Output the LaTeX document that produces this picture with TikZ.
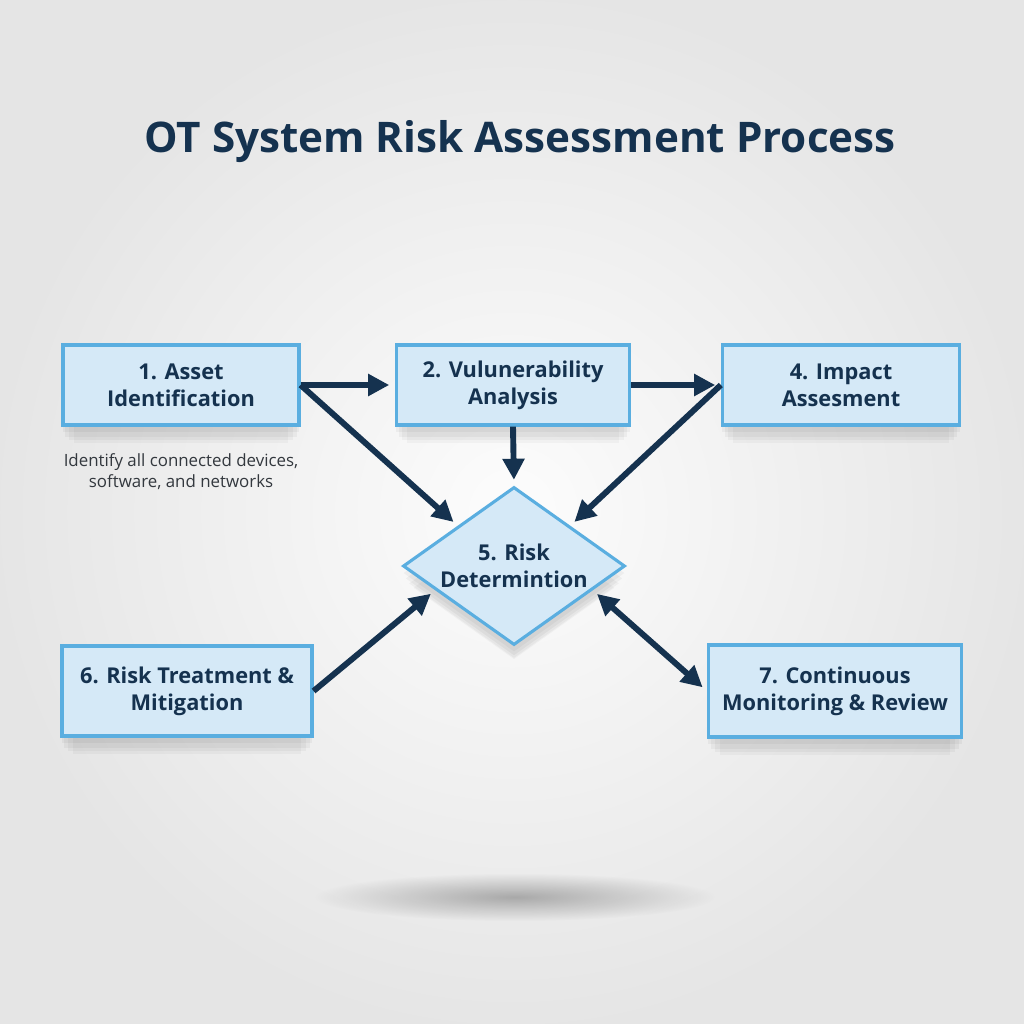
\documentclass[tikz,border=0pt]{standalone}
\usepackage{fontspec}
\setmainfont{Open Sans}
\setsansfont{Open Sans}
\usepackage{tikz}
\usetikzlibrary{arrows.meta, positioning, shapes.geometric, shadows, fadings, calc}
\definecolor{navy}{HTML}{15324F}
\definecolor{boxfill}{HTML}{D5E9F7}
\definecolor{boxline}{HTML}{5AAEE0}
\definecolor{notegray}{HTML}{33383E}
\tikzfading[name=softspot, inner color=transparent!45, outer color=transparent!100]

\tikzset{
  softshadow/.style={
    drop shadow={shadow xshift=0pt, shadow yshift=-5pt, opacity=0.04, fill=black},
    drop shadow={shadow xshift=0pt, shadow yshift=-9pt, shadow scale=0.98, opacity=0.04, fill=black},
    drop shadow={shadow xshift=0pt, shadow yshift=-13pt, shadow scale=0.95, opacity=0.035, fill=black},
    drop shadow={shadow xshift=0pt, shadow yshift=-17pt, shadow scale=0.91, opacity=0.03, fill=black}},
}

\begin{document}
\begin{tikzpicture}[
  x=0.025cm, y=-0.025cm,
  procstep/.style={draw=boxline, line width=2.2pt, fill=boxfill, align=center,
    font=\bfseries\fontsize{15.5}{19}\selectfont, text=navy, inner sep=0pt,
    minimum height=2cm, softshadow},
  decision/.style={diamond, aspect=1.4, draw=boxline, line width=2.2pt, fill=boxfill,
    align=center, font=\bfseries\fontsize{15.5}{19}\selectfont, text=navy, inner sep=0pt,
    minimum width=5.55cm, minimum height=3.95cm, softshadow},
  arr/.style={-{Triangle[length=15pt, width=15pt]}, line width=4.2pt, navy,
    shorten >=4pt},
  note/.style={align=center, text=notegray, font=\fontsize{12}{15}\selectfont},
]

% background
\shade[inner color=gray!2, outer color=gray!20] (0,0) rectangle (1024,1024);
\useasboundingbox (0,0) rectangle (1024,1024);
\fill[black!55, path fading=softspot] (515,897) ellipse (200 and 24);

% title
\node[font=\bfseries\fontsize{30}{34}\selectfont, text=navy] (title) at (520,142)
  {OT System Risk Assessment Process};

% steps
\node[procstep, minimum width=5.9cm] (asset) at (181,385) {1. Asset\\Identification};
\node[procstep, minimum width=5.83cm] (vuln) at (513,385) {2. Vulunerability\\Analysis};
\node[procstep, minimum width=5.93cm] (impact) at (841,385) {4. Impact\\Assesment};
\node[decision] (risk) at (514,566) {5. Risk\\Determintion};
\node[procstep, minimum width=6.25cm, minimum height=2.25cm] (treat) at (187,691)
  {6. Risk Treatment \&\\Mitigation};
\node[procstep, minimum width=6.33cm, minimum height=2.3cm] (monitor) at (835,691)
  {7. Continuous\\Monitoring \& Review};

\node[note, below=0.55cm of asset] (assetnote)
  {Identify all connected devices,\\software, and networks};

% connectors
\draw[arr] (asset.east) -- (vuln.west);
\draw[arr] (asset.east) -- (risk.north west);
\draw[arr] (vuln.east) -- (impact.west);
\draw[arr] (impact.west) -- (risk.north east);
\draw[arr] (vuln.south) -- (risk.north);
\draw[arr] (treat.east) -- ($(risk.west)!0.3!(risk.south)$);
\draw[arr, {Triangle[length=15pt, width=15pt]}-{Triangle[length=15pt, width=15pt]}, shorten <=4pt]
  ($(risk.east)!0.3!(risk.south)$) -- (monitor.west);

\end{tikzpicture}
\end{document}
